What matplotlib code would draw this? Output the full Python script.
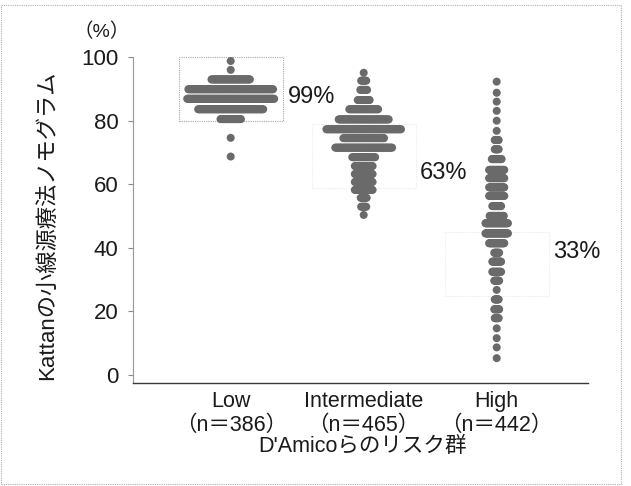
import numpy as np
import matplotlib
matplotlib.use("Agg")
import matplotlib.pyplot as plt
from matplotlib.patches import Rectangle

plt.rcParams['font.family'] = ['Liberation Sans', 'Noto Sans CJK JP', 'DejaVu Sans']

# Risk groups
groups = ["Low", "Intermediate", "High"]
group_n = ["（n＝386）", "（n＝465）", "（n＝442）"]
pct_labels = ["99%", "63%", "33%"]
pct_label_y = [87.7, 63.5, 38.8]

# Nomogram values (row level, %) and number of patients in each row
low_levels = [98.9, 96.1, 93.1, 90.0, 87.0, 83.7, 80.6, 74.7, 68.8]
low_counts = [1, 1, 50, 109, 112, 84, 27, 1, 1]

int_levels = [95.2, 92.7, 89.8, 86.6, 83.7, 80.5, 77.4, 74.6, 71.6, 68.6,
              65.8, 63.3, 60.8, 58.3, 55.8, 53.0, 50.4]
int_counts = [1, 7, 9, 15, 35, 60, 89, 49, 68, 28, 22, 22, 22, 22, 8, 7, 1]

high_levels = [92.4, 88.9, 86.1, 83.2, 80.1, 76.9, 74.0, 71.1, 68.0, 64.6,
               62.0, 59.1, 56.4, 53.2, 50.1, 47.8, 44.6, 41.5, 38.5, 35.7,
               32.5, 29.7, 26.8, 23.8, 20.7, 17.9, 14.7, 11.6, 8.7, 5.3]
high_counts = [1, 1, 1, 1, 1, 1, 9, 9, 21, 32,
               32, 32, 32, 19, 30, 47, 47, 32, 11, 19,
               19, 11, 1, 9, 11, 9, 1, 1, 1, 1]

# Reference bands drawn behind each group (low, high %)
band_low = [80, 100]
band_int = [59, 79]
band_high = [25, 45]

levels = [low_levels, int_levels, high_levels]
counts = [low_counts, int_counts, high_counts]

# layout
W, H = 631, 486
fig = plt.figure(figsize=(W / 100, H / 100), dpi=100)
ax_l, ax_r, ax_t, ax_b = 133, 588, 56.7, 382.7
ax = fig.add_axes([ax_l / W, 1 - ax_b / H, (ax_r - ax_l) / W, (ax_b - ax_t) / H])
px_per_x = 133.0
x0_px = 230.7
ax.set_xlim((ax_l - x0_px) / px_per_x, (ax_r - x0_px) / px_per_x)
ax.set_ylim(-2.43, 100.25)

dot_color = "#6a6a6a"
dot_px = 8.0
dot_size = (dot_px * 0.72) ** 2
step_px = [0.784, 0.848, 0.488]  # horizontal spacing between stacked dots

for gi, (lv, ct) in enumerate(zip(levels, counts)):
    xs, ys = [], []
    for v, c in zip(lv, ct):
        off = (np.arange(c) - (c - 1) / 2.0) * step_px[gi] / px_per_x
        xs.extend(gi + off)
        ys.extend([v] * c)
    ax.scatter(xs, ys, s=dot_size, color=dot_color, edgecolors='none',
               zorder=3, clip_on=False)

# bands
half_w = 0.39
for gi, (band, col) in enumerate([(band_low, "#a8a8a8"),
                                  (band_int, "#ececec"),
                                  (band_high, "#ececec")]):
    r = Rectangle((gi - half_w, band[0]), 2 * half_w, band[1] - band[0],
                  fill=False, edgecolor=col, linewidth=0.8,
                  linestyle=(0, (1, 1)), zorder=1, clip_on=False)
    ax.add_patch(r)

# percent labels
for gi, (t, yv) in enumerate(zip(pct_labels, pct_label_y)):
    ax.text(gi + 0.43 - (0.007 if gi else 0), yv, t, fontsize=17,
            va='center', ha='left', color="#1a1a1a")

# axes styling
for s in ['top', 'right']:
    ax.spines[s].set_visible(False)
ax.spines['left'].set_color("#9a9a9a")
ax.spines['left'].set_linewidth(0.8)
ax.spines['left'].set_linestyle((0, (1, 0.6)))
ax.spines['bottom'].set_color("#3a3a3a")
ax.spines['bottom'].set_linewidth(1.0)

ax.set_yticks([0, 20, 40, 60, 80, 100])
ax.tick_params(axis='y', length=3.5, width=0.8, color="#8a8a8a", pad=7,
               labelsize=16, labelcolor="#1a1a1a")
ax.set_xticks([])

# group labels under the axis
for gi in range(3):
    ax.annotate(groups[gi], xy=(gi, 0), xycoords=('data', 'axes fraction'),
                xytext=(0, -13.7), textcoords='offset points',
                ha='center', va='center', fontsize=15.5, color="#1a1a1a")
    ax.annotate(group_n[gi], xy=(gi, 0), xycoords=('data', 'axes fraction'),
                xytext=(0, -30.5), textcoords='offset points',
                ha='center', va='center', fontsize=15.5, color="#1a1a1a")

ax.annotate("D'Amicoらのリスク群", xy=(0.505, 0), xycoords='axes fraction',
            xytext=(0, -45.6), textcoords='offset points',
            ha='center', va='center', fontsize=15.5, color="#1a1a1a")

fig.text(48 / W, 1 - 225 / H, "Kattanの小線源療法ノモグラム", rotation=90,
         ha='center', va='center', fontsize=16, color="#1a1a1a")
fig.text(102 / W, 1 - 32 / H, "（%）", ha='center', va='center',
         fontsize=14, color="#1a1a1a")

# outer frame
frame = Rectangle((1 / W, 1 - 484 / H), 620 / W, (484 - 5) / H,
                  transform=fig.transFigure, fill=False, edgecolor="#b0b0b0",
                  linewidth=0.8, linestyle=(0, (1, 1)))
fig.patches.append(frame)

fig.savefig("out.png", dpi=100, facecolor="white")
